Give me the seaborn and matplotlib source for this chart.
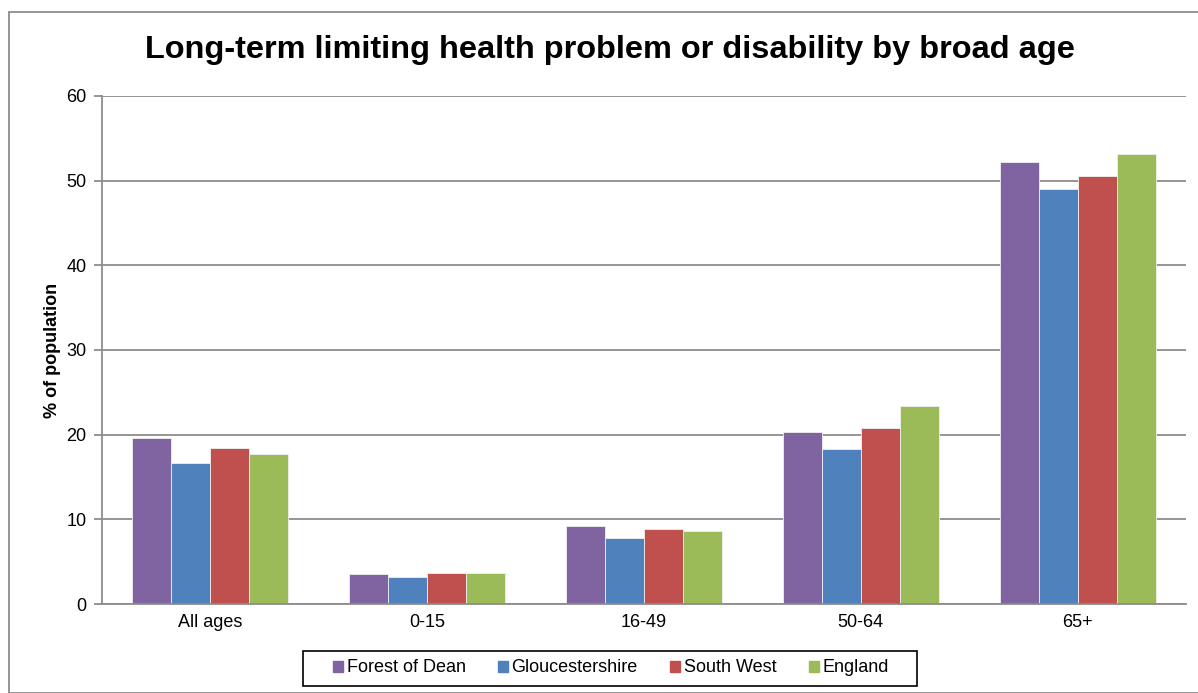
import matplotlib
matplotlib.use("Agg")
import matplotlib.pyplot as plt
import matplotlib.patches as mpatches
import seaborn as sns
import pandas as pd

age_groups = ["All ages", "0-15", "16-49", "50-64", "65+"]
areas = ["Forest of Dean", "Gloucestershire", "South West", "England"]
forest_of_dean = [19.6, 3.5, 9.2, 20.3, 52.2]
gloucestershire = [16.7, 3.15, 7.8, 18.3, 49.0]
south_west = [18.4, 3.7, 8.9, 20.8, 50.5]
england = [17.7, 3.7, 8.6, 23.35, 53.1]
colors = ["#8064A2", "#4F81BD", "#C0504D", "#9BBB59"]

rows = []
for area, vals in zip(areas, [forest_of_dean, gloucestershire, south_west, england]):
    for age, v in zip(age_groups, vals):
        rows.append({"Age": age, "Area": area, "Value": v})
df = pd.DataFrame(rows)

sns.set_style("white")
plt.rcParams["font.family"] = ["Liberation Sans", "DejaVu Sans"]
plt.rcParams["text.color"] = "black"
plt.rcParams["xtick.color"] = "black"
plt.rcParams["ytick.color"] = "black"
plt.rcParams["axes.labelcolor"] = "black"

fig = plt.figure(figsize=(11.98, 6.93), dpi=100)
ax = fig.add_axes([0.085, 0.1284, 0.905, 0.7331])

sns.barplot(data=df, x="Age", y="Value", hue="Area", order=age_groups,
            hue_order=areas, palette=colors, width=0.72, ax=ax,
            edgecolor="#f0f0f0", linewidth=0.6, saturation=1, legend=True)

ax.set_ylim(0, 60)
ax.set_xlim(-0.5, len(age_groups) - 0.5)
ax.set_yticks(range(0, 61, 10))
ax.yaxis.grid(True, color="#8c8c8c", linewidth=1.3)
ax.set_axisbelow(True)
for s in ["top", "right"]:
    ax.spines[s].set_visible(False)
for s in ["left", "bottom"]:
    ax.spines[s].set_color("#8c8c8c")
    ax.spines[s].set_linewidth(1.3)

ax.set_xticks([i - 0.5 for i in range(len(age_groups) + 1)], minor=True)
ax.tick_params(axis="x", which="major", length=0, labelsize=13, pad=7)
ax.tick_params(axis="x", which="minor", length=6, color="#8c8c8c", width=1.3)
ax.tick_params(axis="y", length=6, color="#8c8c8c", width=1.3, labelsize=13, left=True, pad=5)
ax.set_xlabel("")
ax.set_ylabel("% of population", fontsize=13, fontweight="bold", labelpad=4)

fig.text(610 / 1198, 1 - 50 / 693,
         "Long-term limiting health problem or disability by broad age",
         fontsize=23.4, fontweight="bold", ha="center", va="center")

ax.get_legend().remove()
handles = [mpatches.Patch(color=c, label=a) for c, a in zip(colors, areas)]
leg = fig.legend(handles=handles, loc="center", bbox_to_anchor=(611 / 1198, 1 - 668 / 693),
                 ncol=4, fontsize=13, frameon=False,
                 handlelength=0.55, handleheight=0.55, handletextpad=0.2,
                 columnspacing=1.8, borderpad=0.45)

# legend box drawn separately so it can be wider than its entries
fig.patches.append(mpatches.Rectangle((303 / 1198, 1 - 686 / 693), 614 / 1198, 35 / 693,
                                      transform=fig.transFigure, fill=False,
                                      edgecolor="black", linewidth=1.2))

fig.patches.append(mpatches.Rectangle((9 / 1198, 0), 1.2, 1 - 12 / 693, transform=fig.transFigure,
                                      fill=False, edgecolor="#8c8c8c", linewidth=1.3))

fig.savefig("out.png", dpi=100)
